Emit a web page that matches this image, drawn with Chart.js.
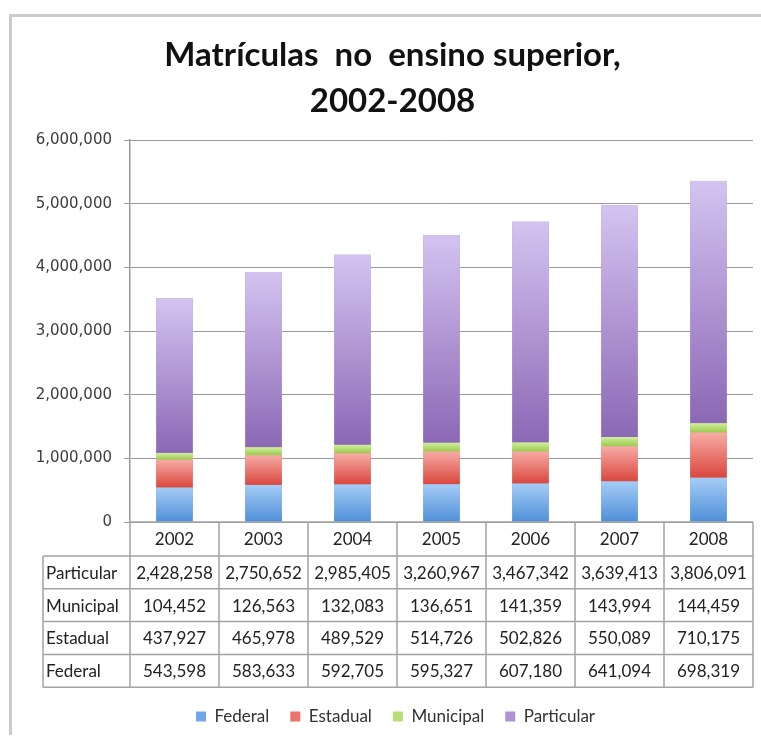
<!DOCTYPE html>
<html>
<head>
<meta charset="utf-8">
<title>Matrículas no ensino superior, 2002-2008</title>
<script src="https://cdn.jsdelivr.net/npm/chart.js@4.4.1/dist/chart.umd.min.js"></script>
<style>
  html, body { margin: 0; padding: 0; background: #fff; overflow: hidden; }
  #wrap { width: 761px; height: 735px; }
</style>
</head>
<body>
<div id="wrap"><canvas id="chart" width="761" height="735"></canvas></div>
<script>
const years = ['2002', '2003', '2004', '2005', '2006', '2007', '2008'];
const federal = [543598, 583633, 592705, 595327, 607180, 641094, 698319];
const estadual = [437927, 465978, 489529, 514726, 502826, 550089, 710175];
const municipal = [104452, 126563, 132083, 136651, 141359, 143994, 144459];
const particular = [2428258, 2750652, 2985405, 3260967, 3467342, 3639413, 3806091];
const yTicks = [0, 1000000, 2000000, 3000000, 4000000, 5000000, 6000000];

const fmt = v => v.toLocaleString('en-US');

// top / bottom colours of each segment's gradient
const shades = [
    ['#a6ccf5', '#4f90d9'],
    ['#f7aca6', '#d9473e'],
    ['#d3ee9f', '#9acb4d'],
    ['#d4c3f1', '#8b68b5']
];

// outer frame like the Excel chart border
const framePlugin = {
    id: 'frame',
    afterLayout(chart) {
        // Excel centres title and legend a bit right of the canvas middle
        chart.titleBlock.left += 6;
        chart.titleBlock.right += 6;
        chart.legend.left += 9;
        chart.legend.right += 9;
    },
    beforeDraw(chart) {
        const ctx = chart.ctx;
        ctx.save();
        ctx.fillStyle = '#fff';
        ctx.fillRect(0, 0, chart.width, chart.height);
        ctx.strokeStyle = '#cbcbcb';
        ctx.lineWidth = 3;
        ctx.strokeRect(10.5, 15.5, chart.width + 20, chart.height + 20);
        ctx.restore();
    }
};

// repaint each bar segment with a vertical gradient
const gradientPlugin = {
    id: 'barGradient',
    afterDatasetsDraw(chart) {
        const ctx = chart.ctx;
        ctx.save();
        chart.data.datasets.forEach((ds, i) => {
            const meta = chart.getDatasetMeta(i);
            meta.data.forEach(bar => {
                const {x, y, base, width} = bar.getProps(['x', 'y', 'base', 'width'], true);
                const top = Math.min(y, base);
                const h = Math.abs(base - y);
                const g = ctx.createLinearGradient(0, top, 0, top + h);
                g.addColorStop(0, shades[i][0]);
                g.addColorStop(1, shades[i][1]);
                ctx.fillStyle = g;
                ctx.fillRect(x - width / 2, top, width, h);
            });
        });
        ctx.restore();
    }
};

// data table under the x axis
const tablePlugin = {
    id: 'dataTable',
    afterDraw(chart) {
        const ctx = chart.ctx;
        const area = chart.chartArea;
        const n = years.length;
        const colW = area.width / n;
        const top = area.bottom;
        const headH = 34;
        const rowH = 32.8;
        const labelLeft = 43;
        const rows = chart.data.datasets.slice().reverse();
        const bottom = top + headH + rowH * rows.length;

        ctx.save();
        ctx.strokeStyle = '#a3a3a3';
        ctx.lineWidth = 1.5;
        ctx.beginPath();
        // header row
        ctx.moveTo(area.left, top);
        ctx.lineTo(area.right, top);
        for (let i = 0; i <= n; i++) {
            const x = area.left + i * colW;
            ctx.moveTo(x, top);
            ctx.lineTo(x, bottom);
        }
        // body rows
        for (let r = 0; r <= rows.length; r++) {
            const y = top + headH + r * rowH;
            ctx.moveTo(labelLeft, y);
            ctx.lineTo(area.right, y);
        }
        ctx.moveTo(labelLeft, top + headH);
        ctx.lineTo(labelLeft, bottom);
        ctx.stroke();

        ctx.fillStyle = '#222';
        ctx.font = '17px Lato';
        ctx.textBaseline = 'middle';
        ctx.textAlign = 'center';
        years.forEach((yr, i) => {
            ctx.fillText(yr, area.left + (i + 0.5) * colW, top + headH / 2 + 1);
        });
        rows.forEach((ds, r) => {
            const cy = top + headH + (r + 0.5) * rowH + 1;
            ctx.textAlign = 'left';
            ctx.fillText(ds.label, labelLeft + 3, cy);
            ctx.textAlign = 'center';
            ds.data.forEach((v, i) => {
                ctx.fillText(fmt(v), area.left + (i + 0.5) * colW, cy);
            });
        });
        ctx.restore();
    }
};

Chart.defaults.font.family = 'Lato';

const ctx = document.getElementById('chart');
new Chart(ctx, {
    type: 'bar',
    data: {
        labels: years,
        datasets: [
            { label: 'Federal', data: federal, backgroundColor: '#6ea8e8' },
            { label: 'Estadual', data: estadual, backgroundColor: '#eb736b' },
            { label: 'Municipal', data: municipal, backgroundColor: '#b8de7c' },
            { label: 'Particular', data: particular, backgroundColor: '#ad92d6' }
        ]
    },
    options: {
        responsive: false,
        animation: false,
        barPercentage: 0.41,
        categoryPercentage: 1,
        layout: {
            padding: { left: 20, right: 8, top: 0, bottom: 0 }
        },
        scales: {
            x: {
                stacked: true,
                grid: { display: false },
                border: { display: false },
                ticks: { display: false },
                afterFit: s => { s.height = 165; }
            },
            y: {
                stacked: true,
                min: 0,
                max: 6000000,
                afterBuildTicks: s => { s.ticks = yTicks.map(v => ({ value: v })); },
                afterFit: s => { s.width = 110; },
                ticks: {
                    callback: v => fmt(v),
                    color: '#3c3c3c',
                    padding: 12,
                    font: { family: 'DejaVu Sans', size: 15 }
                },
                grid: { color: '#9a9a9a', lineWidth: 1, tickLength: 6 },
                border: { color: '#9a9a9a', width: 1.5 }
            }
        },
        plugins: {
            title: {
                display: true,
                text: ['Matrículas  no  ensino superior,', '2002-2008'],
                color: '#111',
                font: { family: 'Lato', size: 33, weight: 'bold', lineHeight: 1.38 },
                padding: { top: 33, bottom: 16 }
            },
            legend: {
                position: 'bottom',
                labels: {
                    boxWidth: 10,
                    boxHeight: 10,
                    padding: 21,
                    color: '#333',
                    font: { family: 'Lato', size: 17 }
                }
            },
            tooltip: {
                callbacks: {
                    label: function(item) {
                        return `${item.dataset.label}: ${fmt(item.raw)}`;
                    }
                }
            }
        }
    },
    plugins: [framePlugin, gradientPlugin, tablePlugin]
});
</script>
</body>
</html>
